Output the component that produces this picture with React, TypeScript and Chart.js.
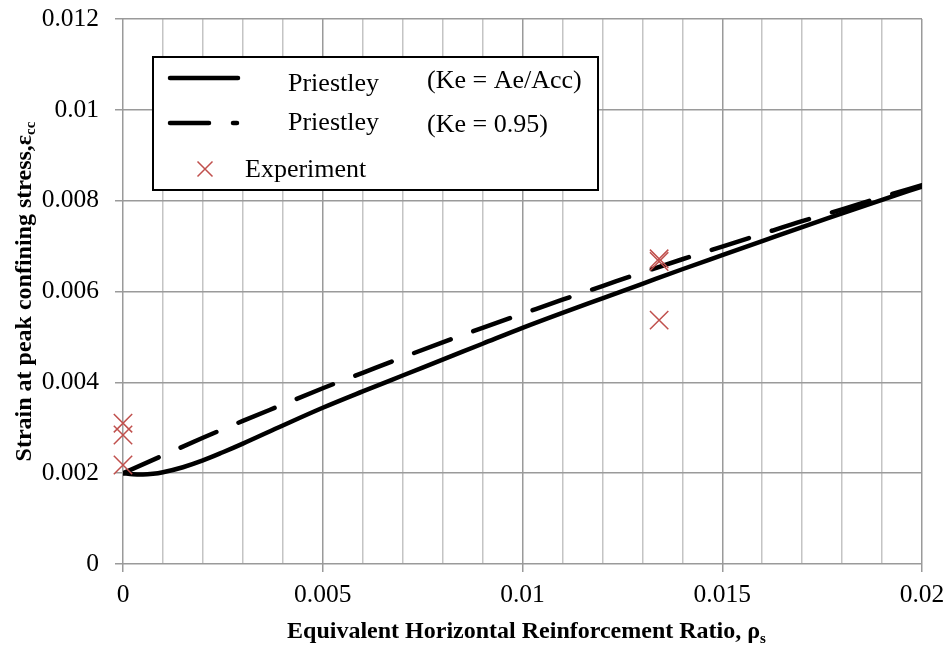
import React, { useEffect, useRef } from 'react';
import { Chart, registerables } from 'chart.js';

Chart.register(...registerables);

// Priestley model, Ke = Ae/Acc
const RHO_AE = [0, 0.00025, 0.0005, 0.00075, 0.001, 0.0015, 0.002, 0.0025, 0.003, 0.004, 0.005, 0.006, 0.007, 0.008, 0.009, 0.01, 0.011, 0.012, 0.013, 0.014, 0.015, 0.016, 0.017, 0.018, 0.019, 0.02];
const STRAIN_AE = [0.002, 0.001975, 0.00197, 0.001985, 0.00202, 0.00213, 0.00228, 0.00246, 0.00265, 0.00305, 0.00344, 0.0038, 0.00415, 0.0045, 0.00485, 0.0052, 0.00553, 0.00585, 0.00617, 0.00649, 0.0068, 0.00711, 0.00742, 0.00772, 0.00802, 0.00831];

// Priestley model, Ke = 0.95
const RHO_095 = [0, 0.001, 0.002, 0.003, 0.004, 0.005, 0.006, 0.007, 0.008, 0.009, 0.01, 0.011, 0.012, 0.013, 0.014, 0.015, 0.016, 0.017, 0.018, 0.019, 0.02];
const STRAIN_095 = [0.002, 0.00239, 0.00278, 0.00315, 0.00351, 0.00387, 0.00421, 0.00455, 0.00488, 0.0052, 0.00551, 0.00582, 0.00612, 0.00642, 0.00671, 0.00699, 0.00727, 0.00755, 0.00781, 0.00808, 0.00834];

// Test results
const EXP_RHO = [0, 0, 0, 0.01342, 0.01342, 0.01342];
const EXP_STRAIN = [0.0031, 0.00284, 0.00218, 0.00672, 0.00666, 0.00537];

const X_TICK_LABELS = ['0', '0.005', '0.01', '0.015', '0.02'];
const Y_TICK_LABELS = ['0', '0.002', '0.004', '0.006', '0.008', '0.01', '0.012'];

const LEGEND_NAMES = ['Priestley', 'Priestley', 'Experiment'];
const LEGEND_NOTES = ['(Ke = Ae/Acc)', '(Ke = 0.95)', ''];

const X_TITLE = 'Equivalent Horizontal Reinforcement Ratio, ρ';
const X_TITLE_SUB = 's';
const Y_TITLE = 'Strain at peak confining stress,ε';
const Y_TITLE_SUB = 'cc';

const SERIF = "'Liberation Serif', 'Times New Roman', serif";
const RED = '#C0504D';
const DASH = [39, 24];
const LINE_W = 4.5;
const MAJOR_GRID = '#9a9a9a';
const MINOR_GRID = '#c4c4c4';

const toPoints = (xs: number[], ys: number[]) => xs.map((x, i) => ({ x, y: ys[i] }));

function drawSubscripted(ctx: CanvasRenderingContext2D, main: string, sub: string, x: number, y: number, size: number) {
  ctx.font = `bold ${size}px ${SERIF}`;
  ctx.fillText(main, x, y);
  const w = ctx.measureText(main).width;
  ctx.font = `bold ${Math.round(size * 0.62)}px ${SERIF}`;
  ctx.fillText(sub, x + w, y + size * 0.2);
}

function subscriptedWidth(ctx: CanvasRenderingContext2D, main: string, sub: string, size: number) {
  ctx.font = `bold ${size}px ${SERIF}`;
  const a = ctx.measureText(main).width;
  ctx.font = `bold ${Math.round(size * 0.62)}px ${SERIF}`;
  return a + ctx.measureText(sub).width;
}

const decorations = {
  id: 'decorations',
  afterDraw(chart: any) {
    const ctx: CanvasRenderingContext2D = chart.ctx;
    const area = chart.chartArea;
    ctx.save();
    ctx.fillStyle = '#000';
    ctx.textAlign = 'left';
    ctx.textBaseline = 'alphabetic';

    // axis titles
    const titleSize = 24;
    const xw = subscriptedWidth(ctx, X_TITLE, X_TITLE_SUB, titleSize);
    drawSubscripted(ctx, X_TITLE, X_TITLE_SUB, (area.left + area.right) / 2 + 4 - xw / 2, 638, titleSize);

    const yw = subscriptedWidth(ctx, Y_TITLE, Y_TITLE_SUB, titleSize);
    ctx.save();
    ctx.translate(30.5, (area.top + area.bottom) / 2);
    ctx.rotate(-Math.PI / 2);
    drawSubscripted(ctx, Y_TITLE, Y_TITLE_SUB, -yw / 2, 0, titleSize);
    ctx.restore();

    // legend box
    const bx = 153, by = 57, bw = 445, bh = 133;
    ctx.fillStyle = '#fff';
    ctx.fillRect(bx, by, bw, bh);
    ctx.strokeStyle = '#000';
    ctx.lineWidth = 2;
    ctx.strokeRect(bx, by, bw, bh);

    ctx.lineWidth = LINE_W;
    ctx.lineCap = 'round';
    ctx.beginPath();
    ctx.moveTo(170, 78);
    ctx.lineTo(238, 78);
    ctx.stroke();

    ctx.setLineDash(DASH);
    ctx.beginPath();
    ctx.moveTo(170, 123);
    ctx.lineTo(237, 123);
    ctx.stroke();
    ctx.setLineDash([]);

    ctx.strokeStyle = RED;
    ctx.lineWidth = 1.5;
    ctx.lineCap = 'butt';
    const mx = 205, my = 169, h = 7.5;
    ctx.beginPath();
    ctx.moveTo(mx - h, my - h);
    ctx.lineTo(mx + h, my + h);
    ctx.moveTo(mx + h, my - h);
    ctx.lineTo(mx - h, my + h);
    ctx.stroke();

    ctx.fillStyle = '#000';
    ctx.font = `26px ${SERIF}`;
    ctx.fillText(LEGEND_NAMES[0], 288, 91);
    ctx.fillText(LEGEND_NOTES[0], 427, 88);
    ctx.fillText(LEGEND_NAMES[1], 288, 130);
    ctx.fillText(LEGEND_NOTES[1], 427, 132);
    ctx.fillText(LEGEND_NAMES[2], 245, 177);
    ctx.restore();
  },
};

export default function App() {
  const canvasRef = useRef<HTMLCanvasElement | null>(null);

  useEffect(() => {
    const canvas = canvasRef.current;
    if (!canvas) return;
    const chart = new Chart(canvas, {
      type: 'scatter',
      data: {
        datasets: [
          {
            label: 'Experiment',
            data: toPoints(EXP_RHO, EXP_STRAIN),
            showLine: false,
            pointStyle: 'crossRot',
            pointRadius: 13,
            pointHoverRadius: 13,
            borderColor: RED,
            backgroundColor: RED,
            pointBorderWidth: 1.5,
            clip: false,
          },
          {
            label: 'Priestley (Ke = 0.95)',
            data: toPoints(RHO_095, STRAIN_095),
            showLine: true,
            borderColor: '#000',
            borderWidth: LINE_W,
            borderDash: DASH,
            borderCapStyle: 'round',
            borderJoinStyle: 'round',
            pointRadius: 0,
            cubicInterpolationMode: 'monotone',
          },
          {
            label: 'Priestley (Ke = Ae/Acc)',
            data: toPoints(RHO_AE, STRAIN_AE),
            showLine: true,
            borderColor: '#000',
            borderWidth: LINE_W,
            borderCapStyle: 'round',
            borderJoinStyle: 'round',
            pointRadius: 0,
            cubicInterpolationMode: 'monotone',
          },
        ],
      },
      options: {
        responsive: false,
        animation: false,
        events: [],
        layout: { padding: { top: 19, right: 28, bottom: 0, left: 0 } },
        plugins: {
          legend: { display: false },
          tooltip: { enabled: false },
          title: { display: false },
        },
        scales: {
          x: {
            type: 'linear',
            min: 0,
            max: 0.02,
            afterFit: (s: any) => {
              s.height = 86;
              s.paddingLeft = 0;
              s.paddingRight = 0;
            },
            border: { display: false },
            grid: {
              drawTicks: true,
              tickLength: 8,
              lineWidth: 1.5,
              color: (c: any) => (c.index % 5 === 0 ? MAJOR_GRID : MINOR_GRID),
              tickColor: (c: any) => (c.index % 5 === 0 ? MAJOR_GRID : 'rgba(0,0,0,0)'),
            },
            ticks: {
              stepSize: 0.001,
              maxTicksLimit: 30,
              autoSkip: false,
              maxRotation: 0,
              minRotation: 0,
              padding: 8,
              color: '#000',
              font: { family: SERIF, size: 25.5 },
              callback: (_v: any, i: number) => (i % 5 === 0 ? X_TICK_LABELS[i / 5] : ''),
            },
          },
          y: {
            type: 'linear',
            min: 0,
            max: 0.012,
            afterFit: (s: any) => {
              s.width = 123;
              s.paddingTop = 0;
              s.paddingBottom = 0;
            },
            border: { display: false },
            grid: {
              drawTicks: true,
              tickLength: 8,
              lineWidth: 1.5,
              color: MAJOR_GRID,
              tickColor: MAJOR_GRID,
            },
            ticks: {
              stepSize: 0.002,
              autoSkip: false,
              padding: 16,
              color: '#000',
              font: { family: SERIF, size: 25.5 },
              callback: (_v: any, i: number) => Y_TICK_LABELS[i],
            },
          },
        },
      },
      plugins: [decorations],
    } as any);
    return () => chart.destroy();
  }, []);

  return (
    <div style={{ position: 'fixed', left: 0, top: 0, width: 950, height: 650, background: '#fff' }}>
      <canvas ref={canvasRef} width={950} height={650} style={{ display: 'block' }} />
    </div>
  );
}
